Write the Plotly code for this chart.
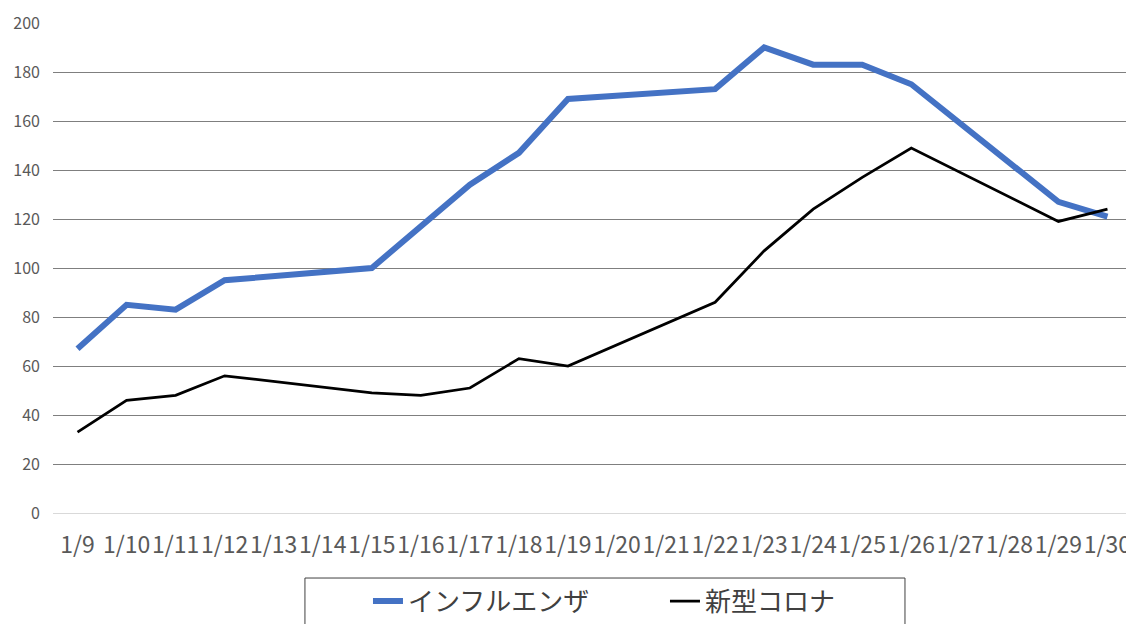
import plotly.graph_objects as go

dates = ["1/9", "1/10", "1/11", "1/12", "1/13", "1/14", "1/15", "1/16", "1/17", "1/18", "1/19",
         "1/20", "1/21", "1/22", "1/23", "1/24", "1/25", "1/26", "1/27", "1/28", "1/29", "1/30"]
influenza = [67, 85, 83, 95, None, None, 100, 117, 134, 147, 169,
             None, None, 173, 190, 183, 183, 175, None, None, 127, 121]
covid = [33, 46, 48, 56, None, None, 49, 48, 51, 63, 60,
         None, None, 86, 107, 124, 137, 149, None, None, 119, 124]
y_ticks = [0, 20, 40, 60, 80, 100, 120, 140, 160, 180, 200]

FONT = "Noto Sans CJK JP"

fig = go.Figure()
fig.add_trace(go.Scatter(x=dates, y=influenza, name="インフルエンザ", mode="lines",
                         connectgaps=True, line=dict(color="#4472C4", width=6)))
fig.add_trace(go.Scatter(x=dates, y=covid, name="新型コロナ", mode="lines",
                         connectgaps=True, line=dict(color="#000000", width=2.75)))

# page body has an 8px default margin; figure is sized to fill the remaining window
fig.update_layout(
    width=1126, height=616,
    margin=dict(l=45, r=2, t=15, b=111),
    paper_bgcolor="white", plot_bgcolor="white",
    font=dict(family=FONT, color="#595959"),
    showlegend=True,
    legend=dict(orientation="h", xref="container", yref="container",
                x=0.3197, y=0.037, xanchor="left", yanchor="middle",
                font=dict(family=FONT, size=26, color="#404040"),
                entrywidth=252, bgcolor="rgba(0,0,0,0)", borderwidth=0),
    shapes=[dict(type="rect", xref="paper", yref="paper",
                 x0=0.2335, x1=0.7896, y0=-0.1327, y1=-0.26,
                 line=dict(color="#404040", width=1), fillcolor="rgba(0,0,0,0)")],
)
fig.update_xaxes(type="category", tickmode="array", tickvals=dates, ticktext=dates,
                 range=[-0.5, len(dates) - 0.5], automargin=False,
                 tickangle=0, showgrid=False, showline=False, zeroline=False,
                 tickfont=dict(family=FONT, size=23, color="#595959"),
                 ticklabelstandoff=16)
fig.update_yaxes(range=[0, 200], tickmode="array", tickvals=y_ticks, automargin=False,
                 showgrid=True, gridcolor="#7F7F7F", gridwidth=1,
                 zeroline=True, zerolinecolor="#D9D9D9", zerolinewidth=1,
                 showline=False, tickfont=dict(family=FONT, size=16, color="#595959"),
                 ticklabelstandoff=12)

fig.write_html("out.html")
